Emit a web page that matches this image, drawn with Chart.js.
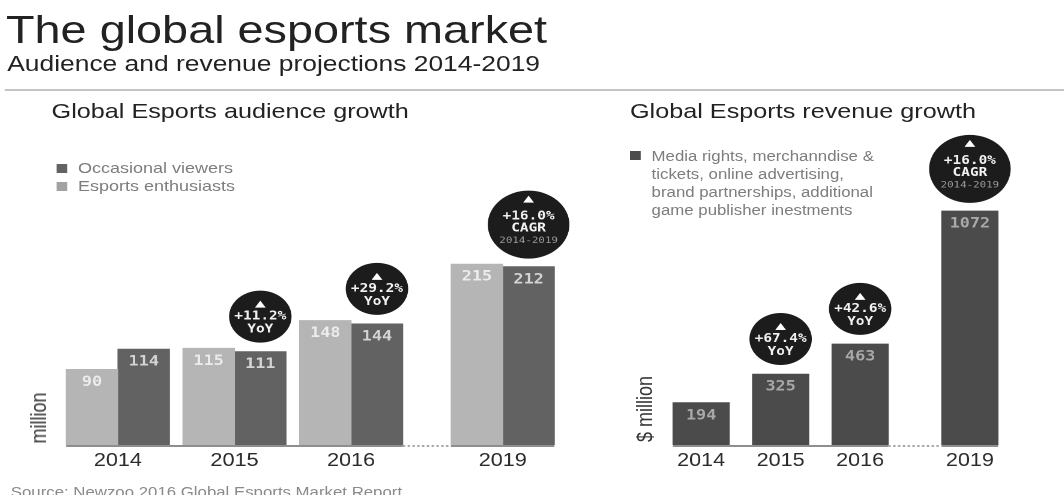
<!DOCTYPE html>
<html>
<head>
<meta charset="utf-8">
<script src="https://cdn.jsdelivr.net/npm/chart.js@4"></script>
<style>
  html, body { margin: 0; padding: 0; background: #fff; overflow: hidden; }
  #page {
    position: relative; width: 887px; height: 495px;
    transform: scaleX(1.2); transform-origin: 0 0;
    font-family: "Liberation Sans", Arial, sans-serif;
  }
  .t { position: absolute; white-space: nowrap; line-height: 1; }
  .box { position: absolute; }
  .legend { position: absolute; font-size: 15px; line-height: 18px; color: #7d7d7d; }
  .legend .sw { display: inline-block; width: 9px; height: 9px; margin-right: 9px; }
  .ylab { position: absolute; transform: translate(-50%, -50%) rotate(-90deg); font-size: 18px; color: #333; white-space: nowrap; }
</style>
</head>
<body>
<div id="page">
  <div class="t" style="left:5px;top:10px;font-size:39px;color:#222;">The global esports market</div>
  <div class="t" style="left:6px;top:53px;font-size:22px;color:#222;">Audience and revenue projections 2014-2019</div>
  <div style="position:absolute;left:4px;top:89px;width:900px;height:2px;background:#c4c4c4;"></div>

  <div class="t" style="left:43px;top:100px;font-size:21px;color:#222;">Global Esports audience growth</div>
  <div class="t" style="left:525px;top:100px;font-size:21px;color:#222;">Global Esports revenue growth</div>

  <div class="box" style="left:1px;top:100px;width:485.5px;height:395px;"><canvas id="audience"></canvas></div>
  <div class="box" style="left:518px;top:100px;width:331.25px;height:395px;"><canvas id="revenue"></canvas></div>

  <div class="legend" id="audienceLegend" style="left:47px;top:159px;"></div>
  <div class="legend" id="revenueLegend" style="left:525px;top:147px;font-size:14px;"></div>

  <div class="ylab" style="left:33px;top:418px;">million</div>
  <div class="ylab" style="left:538px;top:409px;">$ million</div>

  <div class="t" style="left:9px;top:485px;font-size:14px;color:#8a8a8a;">Source: Newzoo 2016 Global Esports Market Report</div>
</div>

<script>
const years = ["2014", "2015", "2016", "2019"];
const enthusiasts = [90, 115, 148, 215];
const occasional = [114, 111, 144, 212];
const revenue = [194, 325, 463, 1072];
const audienceBadges = [null, "+11.2%", "+29.2%", "+16.0%"];
const revenueBadges = [null, "+67.4%", "+42.6%", "+16.0%"];
const badgeKinds = [null, "YoY", "YoY", "CAGR"];
const cagrSpan = "2014-2019";
const revenueLegendLines = [
  "Media rights, merchanndise &",
  "tickets, online advertising,",
  "brand partnerships, additional",
  "game publisher inestments",
];

const LIGHT = "#b5b5b5";
const DARK = "#626262";
const REV = "#4b4b4b";
const BUBBLE = "#1c1c1c";

// index on the x axis, with a wider step across the missing years
function slot(i, gap) {
  const jump = Number(years[i]) - Number(years[0]) > i;
  return i + (jump ? gap : 0);
}
const breakAt = years.findIndex((y, i) => i > 0 && Number(y) - Number(years[i - 1]) > 1);

function points(values, gap) {
  return values.map((v, i) => ({ x: slot(i, gap), y: v }));
}

const extras = {
  id: "extras",
  afterDatasetsDraw(chart, args, opts) {
    const ctx = chart.ctx;
    const y0 = chart.scales.y.getPixelForValue(0) + 1;
    const n = chart.data.datasets.length;
    const first = chart.getDatasetMeta(0).data;
    const last = chart.getDatasetMeta(n - 1).data;
    const L = i => first[i].x - first[i].width / 2;
    const R = i => last[i].x + last[i].width / 2;

    ctx.save();
    // base line, dotted across the year break
    ctx.lineWidth = 2;
    ctx.strokeStyle = "#8e8e8e";
    ctx.beginPath();
    ctx.moveTo(L(0), y0); ctx.lineTo(R(breakAt - 1), y0);
    ctx.moveTo(L(breakAt), y0); ctx.lineTo(R(years.length - 1), y0);
    ctx.stroke();
    ctx.setLineDash([2, 2]);
    ctx.strokeStyle = "#a8a8a8";
    ctx.beginPath();
    ctx.moveTo(R(breakAt - 1), y0); ctx.lineTo(L(breakAt), y0);
    ctx.stroke();
    ctx.setLineDash([]);

    // values inside the bars
    ctx.textAlign = "center";
    ctx.textBaseline = "middle";
    ctx.font = "bold 14px 'DejaVu Sans Mono', monospace";
    chart.data.datasets.forEach((ds, d) => {
      ctx.fillStyle = opts.valueColors[d];
      chart.getDatasetMeta(d).data.forEach((el, i) => {
        ctx.fillText(String(ds.data[i].y), el.x, el.y + 13);
      });
    });

    // growth badges
    const bars = chart.getDatasetMeta(opts.badgeDataset).data;
    opts.badges.forEach((txt, i) => {
      if (!txt) return;
      const el = bars[i];
      const big = badgeKinds[i] === "CAGR";
      const r = big ? 34 : 26;
      const cx = el.x;
      const cy = el.y - (big ? 42 : 35);
      ctx.fillStyle = BUBBLE;
      ctx.beginPath();
      ctx.arc(cx, cy, r, 0, Math.PI * 2);
      ctx.fill();

      const tri = big ? cy - 22 : cy - 9;
      ctx.fillStyle = "#fff";
      ctx.beginPath();
      ctx.moveTo(cx, tri - 7); ctx.lineTo(cx + 4.5, tri); ctx.lineTo(cx - 4.5, tri);
      ctx.closePath();
      ctx.fill();

      ctx.font = "bold 12px 'DejaVu Sans Mono', monospace";
      ctx.fillStyle = "#f2f2f2";
      if (big) {
        ctx.fillText(txt, cx, cy - 8);
        ctx.fillText(badgeKinds[i], cx, cy + 4);
        ctx.font = "9px 'DejaVu Sans Mono', monospace";
        ctx.fillStyle = "#9a9a9a";
        ctx.fillText(cagrSpan, cx, cy + 16);
      } else {
        ctx.fillText(txt, cx, cy);
        ctx.fillText(badgeKinds[i], cx, cy + 13);
      }
    });
    ctx.restore();
  },
};

function baseOptions(yMax, gap, extraOpts) {
  return {
    responsive: true,
    maintainAspectRatio: false,
    devicePixelRatio: 2,
    animation: false,
    layout: { padding: { top: 0, left: 0, right: 0, bottom: 22 } },
    plugins: {
      legend: { display: false },
      tooltip: { enabled: false },
      extras: extraOpts,
    },
    scales: {
      x: {
        type: "linear",
        min: -1,
        max: 4,
        offset: false,
        grid: { display: false, drawTicks: false },
        border: { display: false },
        afterBuildTicks: axis => {
          axis.ticks = years.map((y, i) => ({ value: slot(i, gap) }));
        },
        afterFit: axis => { axis.height = 28; },
        ticks: {
          autoSkip: false,
          maxRotation: 0,
          padding: 5,
          color: "#2b2b2b",
          font: { family: "'Liberation Sans', Arial, sans-serif", size: 18 },
          callback: (value, index) => years[index],
        },
      },
      y: { display: false, min: 0, max: yMax },
    },
  };
}

const audienceGap = 0.30;
const revenueGap = 0.38;

new Chart(document.getElementById("audience"), {
  type: "bar",
  data: {
    datasets: [
      { label: "Esports enthusiasts", data: points(enthusiasts, audienceGap), backgroundColor: LIGHT, barThickness: 43 },
      { label: "Occasional viewers", data: points(occasional, audienceGap), backgroundColor: DARK, barThickness: 43 },
    ],
  },
  options: baseOptions(410, audienceGap, { badgeDataset: 1, badges: audienceBadges, valueColors: ["#ececec", "#d4d4d4"] }),
  plugins: [extras],
});

new Chart(document.getElementById("revenue"), {
  type: "bar",
  data: {
    datasets: [
      { label: "Revenue", data: points(revenue, revenueGap), backgroundColor: REV, barThickness: 47 },
    ],
  },
  options: baseOptions(1580, revenueGap, { badgeDataset: 0, badges: revenueBadges, valueColors: ["#a9a9a9"] }),
  plugins: [extras],
});

// legends
const legendRow = (color, text) =>
  '<div><span class="sw" style="background:' + color + '"></span>' + text + "</div>";
document.getElementById("audienceLegend").innerHTML =
  legendRow(DARK, "Occasional viewers") + legendRow("#a2a2a2", "Esports enthusiasts");
document.getElementById("revenueLegend").innerHTML =
  '<div style="display:flex"><span class="sw" style="background:' + REV + ';margin-top:4px;flex:none"></span><div>' +
  revenueLegendLines.join("<br>") + "</div></div>";
</script>
</body>
</html>
